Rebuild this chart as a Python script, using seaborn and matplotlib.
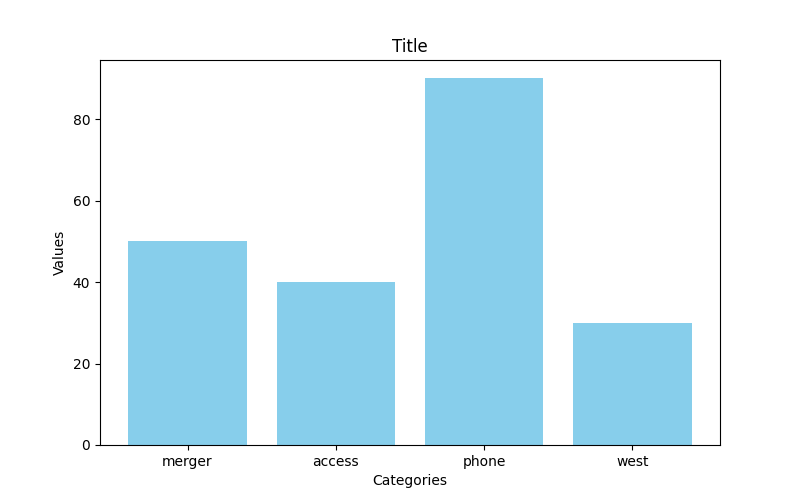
import matplotlib
matplotlib.use("Agg")
import matplotlib.pyplot as plt
import seaborn as sns
import pandas as pd

categories = ['merger', 'access', 'phone', 'west']
values = [50, 40, 90, 30]

df = pd.DataFrame({'Categories': categories, 'Values': values})

fig, ax = plt.subplots(figsize=(8, 5), dpi=100)
sns.barplot(data=df, x='Categories', y='Values', color='skyblue',
            saturation=1, width=0.8, ax=ax)
# match matplotlib's default 5% margins around the bars
ax.set_xlim(-0.4 - 0.19, len(categories) - 1 + 0.4 + 0.19)
ax.set_title('Title')
ax.set_xlabel('Categories')
ax.set_ylabel('Values')
plt.savefig('out.png')
